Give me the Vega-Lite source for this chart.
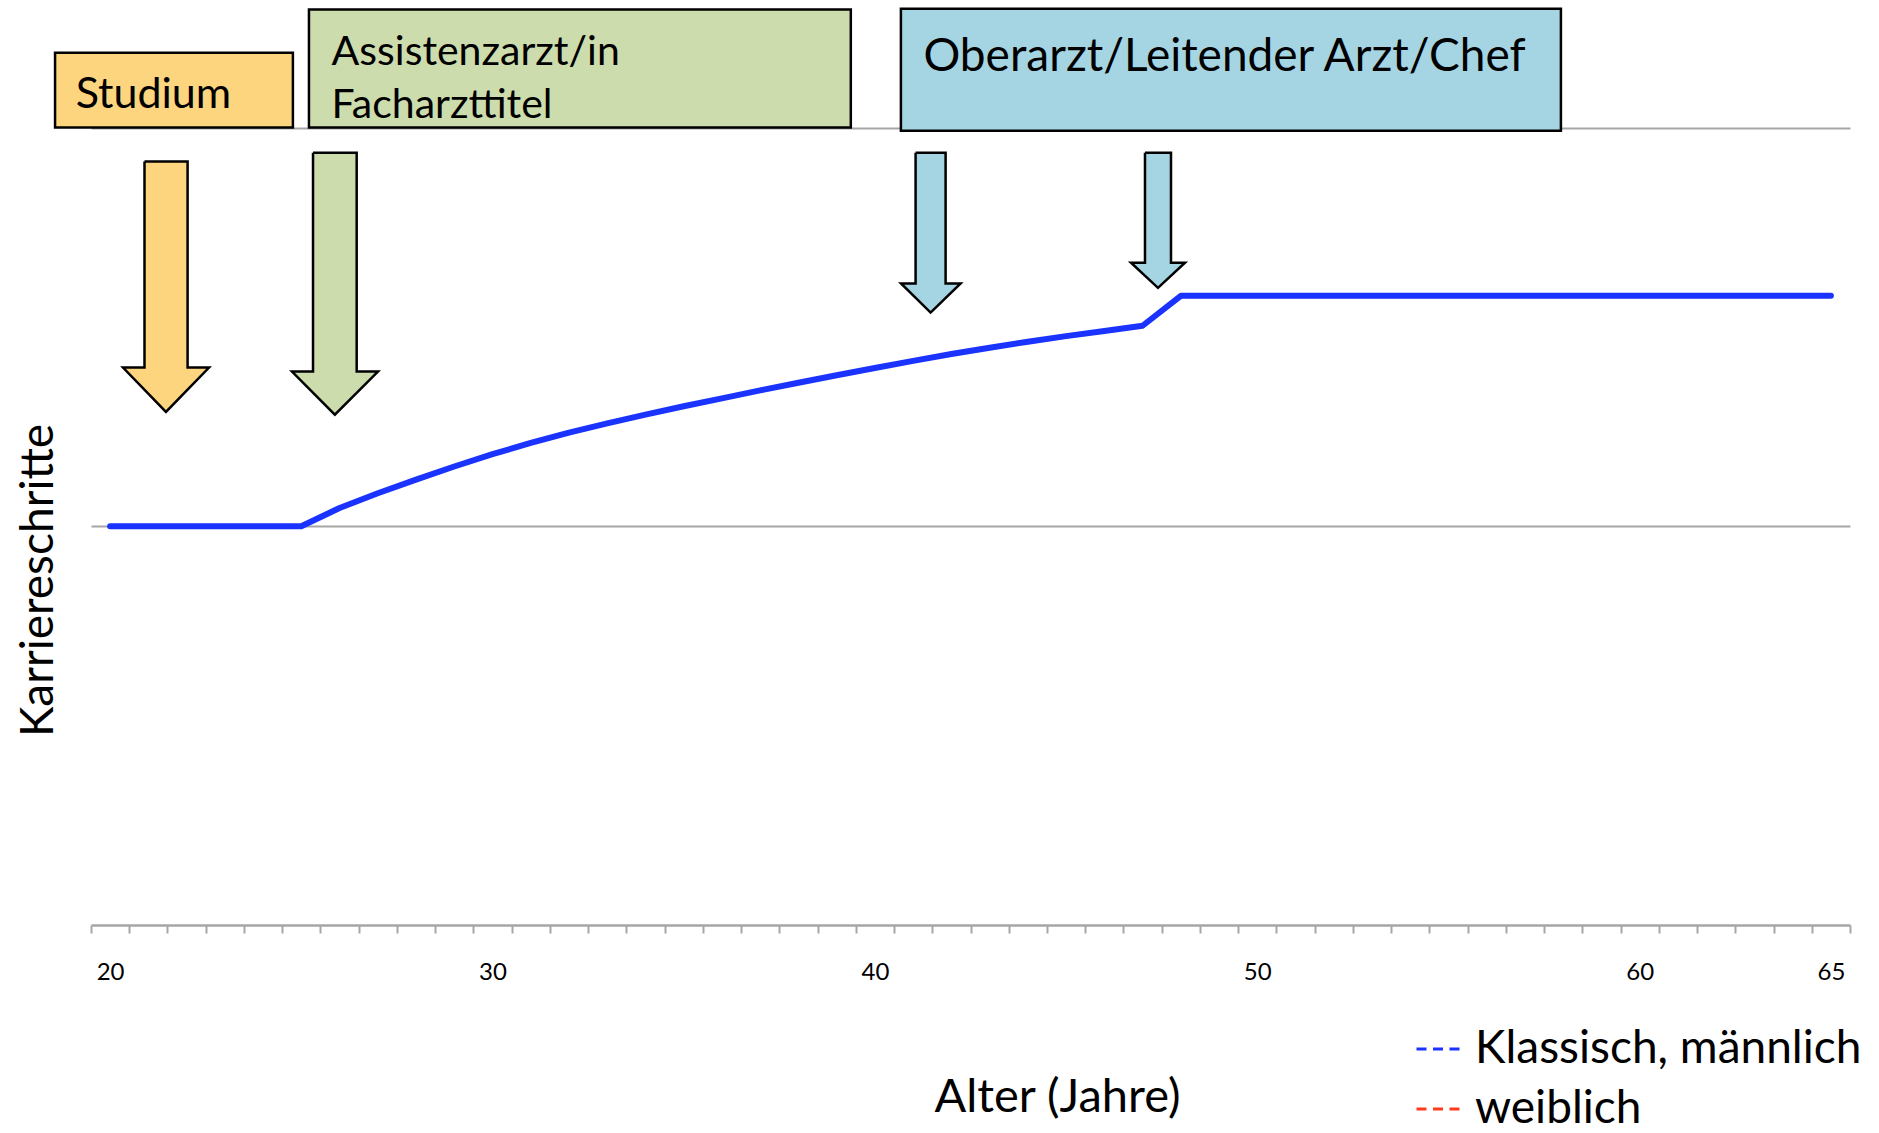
{
  "$schema": "https://vega.github.io/schema/vega-lite/v6.json",
  "width": 1759,
  "height": 917,
  "autosize": {"type": "none"},
  "padding": {"left": 91, "top": 8, "right": 29, "bottom": 208},
  "background": "white",
  "config": {"view": {"stroke": null}, "font": "Lato"},
  "datasets": {
    "career": [
      {"x": 20, "y": 1.0, "series": "Klassisch, männlich"},
      {"x": 21, "y": 1.0, "series": "Klassisch, männlich"},
      {"x": 22, "y": 1.0, "series": "Klassisch, männlich"},
      {"x": 23, "y": 1.0, "series": "Klassisch, männlich"},
      {"x": 24, "y": 1.0, "series": "Klassisch, männlich"},
      {"x": 25, "y": 1.0, "series": "Klassisch, männlich"},
      {"x": 26, "y": 1.046, "series": "Klassisch, männlich"},
      {"x": 27, "y": 1.083, "series": "Klassisch, männlich"},
      {"x": 28, "y": 1.117, "series": "Klassisch, männlich"},
      {"x": 29, "y": 1.150, "series": "Klassisch, männlich"},
      {"x": 30, "y": 1.181, "series": "Klassisch, männlich"},
      {"x": 31, "y": 1.209, "series": "Klassisch, männlich"},
      {"x": 32, "y": 1.235, "series": "Klassisch, männlich"},
      {"x": 33, "y": 1.258, "series": "Klassisch, männlich"},
      {"x": 34, "y": 1.280, "series": "Klassisch, männlich"},
      {"x": 35, "y": 1.301, "series": "Klassisch, männlich"},
      {"x": 36, "y": 1.321, "series": "Klassisch, männlich"},
      {"x": 37, "y": 1.341, "series": "Klassisch, männlich"},
      {"x": 38, "y": 1.360, "series": "Klassisch, männlich"},
      {"x": 39, "y": 1.379, "series": "Klassisch, männlich"},
      {"x": 40, "y": 1.397, "series": "Klassisch, männlich"},
      {"x": 41, "y": 1.415, "series": "Klassisch, männlich"},
      {"x": 42, "y": 1.432, "series": "Klassisch, männlich"},
      {"x": 43, "y": 1.448, "series": "Klassisch, männlich"},
      {"x": 44, "y": 1.463, "series": "Klassisch, männlich"},
      {"x": 45, "y": 1.477, "series": "Klassisch, männlich"},
      {"x": 46, "y": 1.490, "series": "Klassisch, männlich"},
      {"x": 47, "y": 1.503, "series": "Klassisch, männlich"},
      {"x": 48, "y": 1.578, "series": "Klassisch, männlich"},
      {"x": 49, "y": 1.578, "series": "Klassisch, männlich"},
      {"x": 50, "y": 1.578, "series": "Klassisch, männlich"},
      {"x": 51, "y": 1.578, "series": "Klassisch, männlich"},
      {"x": 52, "y": 1.578, "series": "Klassisch, männlich"},
      {"x": 53, "y": 1.578, "series": "Klassisch, männlich"},
      {"x": 54, "y": 1.578, "series": "Klassisch, männlich"},
      {"x": 55, "y": 1.578, "series": "Klassisch, männlich"},
      {"x": 56, "y": 1.578, "series": "Klassisch, männlich"},
      {"x": 57, "y": 1.578, "series": "Klassisch, männlich"},
      {"x": 58, "y": 1.578, "series": "Klassisch, männlich"},
      {"x": 59, "y": 1.578, "series": "Klassisch, männlich"},
      {"x": 60, "y": 1.578, "series": "Klassisch, männlich"},
      {"x": 61, "y": 1.578, "series": "Klassisch, männlich"},
      {"x": 62, "y": 1.578, "series": "Klassisch, männlich"},
      {"x": 63, "y": 1.578, "series": "Klassisch, männlich"},
      {"x": 64, "y": 1.578, "series": "Klassisch, männlich"},
      {"x": 65, "y": 1.578, "series": "Klassisch, männlich"}
    ],
    "boxes": [
      {"phase": "Studium", "x": 18.56, "x2": 24.78, "y": 2.188, "y2": 2.0},
      {"phase": "Assistenzarzt", "x": 25.20, "x2": 39.37, "y": 2.296, "y2": 2.0},
      {"phase": "Oberarzt", "x": 40.68, "x2": 57.94, "y": 2.298, "y2": 1.992}
    ],
    "labels": [
      {"label": "Assistenzarzt/in", "x": 25.79, "y": 2.158},
      {"label": "Facharzttitel", "x": 25.79, "y": 2.025}
    ],
    "labels1": [
      {"label": "Studium", "x": 19.1, "y": 2.048}
    ],
    "labels2": [
      {"label": "Oberarzt/Leitender Arzt/Chef", "x": 41.27, "y": 2.143}
    ],
    "arrows": [
      {"arrow": "A", "phase": "Studium", "i": 1, "x": 20.899, "y": 1.915},
      {"arrow": "A", "phase": "Studium", "i": 2, "x": 22.026, "y": 1.915},
      {"arrow": "A", "phase": "Studium", "i": 3, "x": 22.026, "y": 1.398},
      {"arrow": "A", "phase": "Studium", "i": 4, "x": 22.586, "y": 1.398},
      {"arrow": "A", "phase": "Studium", "i": 5, "x": 21.46, "y": 1.287},
      {"arrow": "A", "phase": "Studium", "i": 6, "x": 20.337, "y": 1.398},
      {"arrow": "A", "phase": "Studium", "i": 7, "x": 20.899, "y": 1.398},
      {"arrow": "A", "phase": "Studium", "i": 8, "x": 20.899, "y": 1.915},
      {"arrow": "B", "phase": "Assistenzarzt", "i": 1, "x": 25.306, "y": 1.937},
      {"arrow": "B", "phase": "Assistenzarzt", "i": 2, "x": 26.448, "y": 1.937},
      {"arrow": "B", "phase": "Assistenzarzt", "i": 3, "x": 26.448, "y": 1.388},
      {"arrow": "B", "phase": "Assistenzarzt", "i": 4, "x": 27.005, "y": 1.388},
      {"arrow": "B", "phase": "Assistenzarzt", "i": 5, "x": 25.877, "y": 1.280},
      {"arrow": "B", "phase": "Assistenzarzt", "i": 6, "x": 24.756, "y": 1.388},
      {"arrow": "B", "phase": "Assistenzarzt", "i": 7, "x": 25.306, "y": 1.388},
      {"arrow": "B", "phase": "Assistenzarzt", "i": 8, "x": 25.306, "y": 1.937},
      {"arrow": "C", "phase": "Oberarzt", "i": 1, "x": 41.064, "y": 1.937},
      {"arrow": "C", "phase": "Oberarzt", "i": 2, "x": 41.849, "y": 1.937},
      {"arrow": "C", "phase": "Oberarzt", "i": 3, "x": 41.849, "y": 1.609},
      {"arrow": "C", "phase": "Oberarzt", "i": 4, "x": 42.241, "y": 1.609},
      {"arrow": "C", "phase": "Oberarzt", "i": 5, "x": 41.457, "y": 1.536},
      {"arrow": "C", "phase": "Oberarzt", "i": 6, "x": 40.683, "y": 1.609},
      {"arrow": "C", "phase": "Oberarzt", "i": 7, "x": 41.064, "y": 1.609},
      {"arrow": "C", "phase": "Oberarzt", "i": 8, "x": 41.064, "y": 1.937},
      {"arrow": "D", "phase": "Oberarzt", "i": 1, "x": 47.063, "y": 1.937},
      {"arrow": "D", "phase": "Oberarzt", "i": 2, "x": 47.743, "y": 1.937},
      {"arrow": "D", "phase": "Oberarzt", "i": 3, "x": 47.743, "y": 1.661},
      {"arrow": "D", "phase": "Oberarzt", "i": 4, "x": 48.109, "y": 1.661},
      {"arrow": "D", "phase": "Oberarzt", "i": 5, "x": 47.403, "y": 1.598},
      {"arrow": "D", "phase": "Oberarzt", "i": 6, "x": 46.697, "y": 1.661},
      {"arrow": "D", "phase": "Oberarzt", "i": 7, "x": 47.063, "y": 1.661},
      {"arrow": "D", "phase": "Oberarzt", "i": 8, "x": 47.063, "y": 1.937}
    ]
  },
  "encoding": {
    "x": {
      "field": "x",
      "type": "quantitative",
      "scale": {"domain": [19.5, 65.5], "nice": false, "zero": false},
      "axis": {
        "values": [19.5, 20.5, 21.5, 22.5, 23.5, 24.5, 25.5, 26.5, 27.5, 28.5, 29.5, 30.5, 31.5, 32.5, 33.5, 34.5, 35.5, 36.5, 37.5, 38.5, 39.5, 40.5, 41.5, 42.5, 43.5, 44.5, 45.5, 46.5, 47.5, 48.5, 49.5, 50.5, 51.5, 52.5, 53.5, 54.5, 55.5, 56.5, 57.5, 58.5, 59.5, 60.5, 61.5, 62.5, 63.5, 64.5, 65.5],
        "labelExpr": "indexof([20, 30, 40, 50, 60, 65], datum.value + 0.5) >= 0 ? format(datum.value + 0.5, 'd') : ''",
        "labelOffset": 19.12,
        "labelFont": "Lato",
        "labelFontSize": 24,
        "labelColor": "black",
        "labelBaseline": "alphabetic",
        "labelPadding": 46,
        "labelOverlap": false,
        "labelFlush": false,
        "labelBound": false,
        "tickSize": 8,
        "tickColor": "#a6a6a6",
        "tickWidth": 2,
        "domainColor": "#a6a6a6",
        "domainWidth": 2.5,
        "grid": false,
        "title": "Alter (Jahre)",
        "titleFont": "Lato",
        "titleFontSize": 47,
        "titleFontWeight": "normal",
        "titleColor": "black",
        "titleX": 966,
        "titleY": 186,
        "titleAlign": "center",
        "titleBaseline": "alphabetic"
      }
    },
    "y": {
      "field": "y",
      "type": "quantitative",
      "scale": {"domain": [0, 2.3], "nice": false, "zero": false},
      "axis": {
        "values": [1, 2],
        "grid": true,
        "gridColor": "#a6a6a6",
        "gridWidth": 2,
        "domain": false,
        "ticks": false,
        "labels": false,
        "title": "Karriereschritte",
        "titleFont": "Lato",
        "titleFontSize": 46,
        "titleFontWeight": "normal",
        "titleColor": "black",
        "titleAngle": -90,
        "titleX": -39,
        "titleY": 572,
        "titleAlign": "center",
        "titleBaseline": "alphabetic"
      }
    }
  },
  "layer": [
    {
      "data": {"name": "career"},
      "mark": {"type": "line", "strokeWidth": 6, "strokeCap": "round", "strokeJoin": "round"},
      "encoding": {
        "color": {
          "field": "series",
          "type": "nominal",
          "scale": {"domain": ["Klassisch, männlich", "weiblich"], "range": ["#1a33ff", "#ff3b1f"]},
          "legend": {
            "orient": "none",
            "legendX": 1324,
            "legendY": 1018,
            "title": null,
            "padding": 0,
            "symbolType": "stroke",
            "symbolSize": 1849,
            "symbolStrokeWidth": 3,
            "symbolDash": [10, 6.5],
            "labelFont": "Lato",
            "labelFontSize": 46,
            "labelColor": "black",
            "labelOffset": 14,
            "labelLimit": 1000,
            "rowPadding": 14
          }
        }
      }
    },
    {
      "data": {"name": "boxes"},
      "mark": {"type": "rect", "stroke": "black", "strokeWidth": 2.5},
      "encoding": {
        "x2": {"field": "x2"},
        "y2": {"field": "y2"},
        "fill": {
          "field": "phase",
          "type": "nominal",
          "scale": {"domain": ["Studium", "Assistenzarzt", "Oberarzt"], "range": ["#fdd57e", "#cddcac", "#a5d5e3"]},
          "legend": null
        }
      }
    },
    {
      "data": {"name": "arrows"},
      "mark": {"type": "line", "stroke": "black", "strokeWidth": 2.5, "strokeJoin": "miter"},
      "encoding": {
        "detail": {"field": "arrow"},
        "order": {"field": "i", "type": "quantitative"},
        "fill": {
          "field": "phase",
          "type": "nominal",
          "scale": {"domain": ["Studium", "Assistenzarzt", "Oberarzt"], "range": ["#fdd57e", "#cddcac", "#a5d5e3"]},
          "legend": null
        }
      }
    },
    {
      "data": {"name": "labels"},
      "mark": {"type": "text", "font": "Lato", "fontSize": 41, "align": "left", "baseline": "alphabetic", "color": "black"},
      "encoding": {"text": {"field": "label"}}
    },
    {
      "data": {"name": "labels1"},
      "mark": {"type": "text", "font": "Lato", "fontSize": 43, "align": "left", "baseline": "alphabetic", "color": "black"},
      "encoding": {"text": {"field": "label"}}
    },
    {
      "data": {"name": "labels2"},
      "mark": {"type": "text", "font": "Lato", "fontSize": 46, "align": "left", "baseline": "alphabetic", "color": "black"},
      "encoding": {"text": {"field": "label"}}
    }
  ]
}
